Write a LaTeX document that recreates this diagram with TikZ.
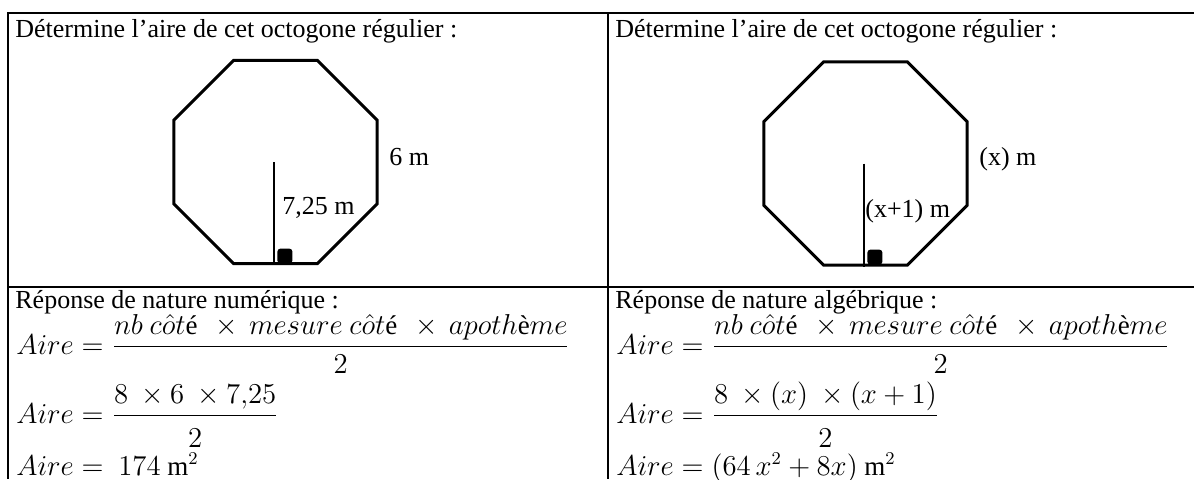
\documentclass[tikz,border=0pt]{standalone}
\usepackage{amsmath}
\usepackage{fontspec}
\setmainfont{Liberation Serif}
\usetikzlibrary{shapes.geometric,positioning}

\begin{document}
\begin{tikzpicture}[x=0.5pt, y=-0.5pt,
  txt/.style={font=\fontsize{13}{16}\selectfont, inner sep=0pt, anchor=base west},
  eq/.style={font=\fontsize{13.5}{16}\selectfont, inner sep=0pt, anchor=base west},
  octo/.style={regular polygon, regular polygon sides=8, draw, line width=1.5pt, minimum size=109.9pt, inner sep=0pt},
  apo/.style={line width=0.6pt},
  ang/.style={rectangle, fill=black, rounded corners=1.5pt, minimum size=7.5pt, inner sep=0pt, anchor=south west},
  grid/.style={line width=1pt},
]
\useasboundingbox (0,0) rectangle (1194,479);

% === TABLE ===
\draw[grid] (1194,13) -- (8,13) -- (8,479);
\draw[grid] (8,287) -- (1194,287);
\draw[grid] (608,13) -- (608,479);

% === LEFT: numerical ===
\node[txt] (titleA) at (15,37) {Détermine l’aire de cet octogone régulier :};
\node[octo] (octA) at (275.5,162) {};
\draw[apo] ([xshift=-0.75pt]octA.center) -- ([xshift=-0.75pt]octA.south);
\node[ang] (sqA) at (277,264) {};
\node[txt] (sideA) at (389,165) {6 m};
\node[txt] (apoA) at (282,214) {7,25 m};

\node[txt] (respA) at (15,308) {Réponse de nature numérique :};
\node[eq] (eqA1) at (16,354) {$Aire = \dfrac{nb\ c\hat{o}t\text{é}\ \,\times\, mesure\ c\hat{o}t\text{é}\ \,\times\, apoth\text{è}me}{\rule{0pt}{11pt}2}$};
\node[eq] (eqA2) at (16,423) {$Aire = \dfrac{8\ \times 6\ \times 7{,}25}{\rule{0pt}{14pt}2}$};
\node[eq] (eqA3) at (16,475) {$Aire = \ 174$ m$^2$};

% === RIGHT: algebraic ===
\node[txt] (titleB) at (615,37) {Détermine l’aire de cet octogone régulier :};
\node[octo] (octB) at (865.5,163.5) {};
\draw[apo] ([xshift=-0.75pt]octB.center) -- ([xshift=-0.75pt]octB.south);
\node[ang] (sqB) at (867,265) {};
\node[txt] (sideB) at (979,165) {(x) m};
\node[txt] (apoB) at (865,217) {(x+1) m};

\node[txt] (respB) at (615,308) {Réponse de nature algébrique :};
\node[eq] (eqB1) at (616,354) {$Aire = \dfrac{nb\ c\hat{o}t\text{é}\ \,\times\, mesure\ c\hat{o}t\text{é}\ \,\times\, apoth\text{è}me}{\rule{0pt}{11pt}2}$};
\node[eq] (eqB2) at (616,423) {$Aire = \dfrac{8\ \times (x)\ \times (x+1)}{\rule{0pt}{14pt}2}$};
\node[eq] (eqB3) at (616,475) {$Aire = (64\,x^2 + 8x)$ m$^2$};
\end{tikzpicture}
\end{document}
